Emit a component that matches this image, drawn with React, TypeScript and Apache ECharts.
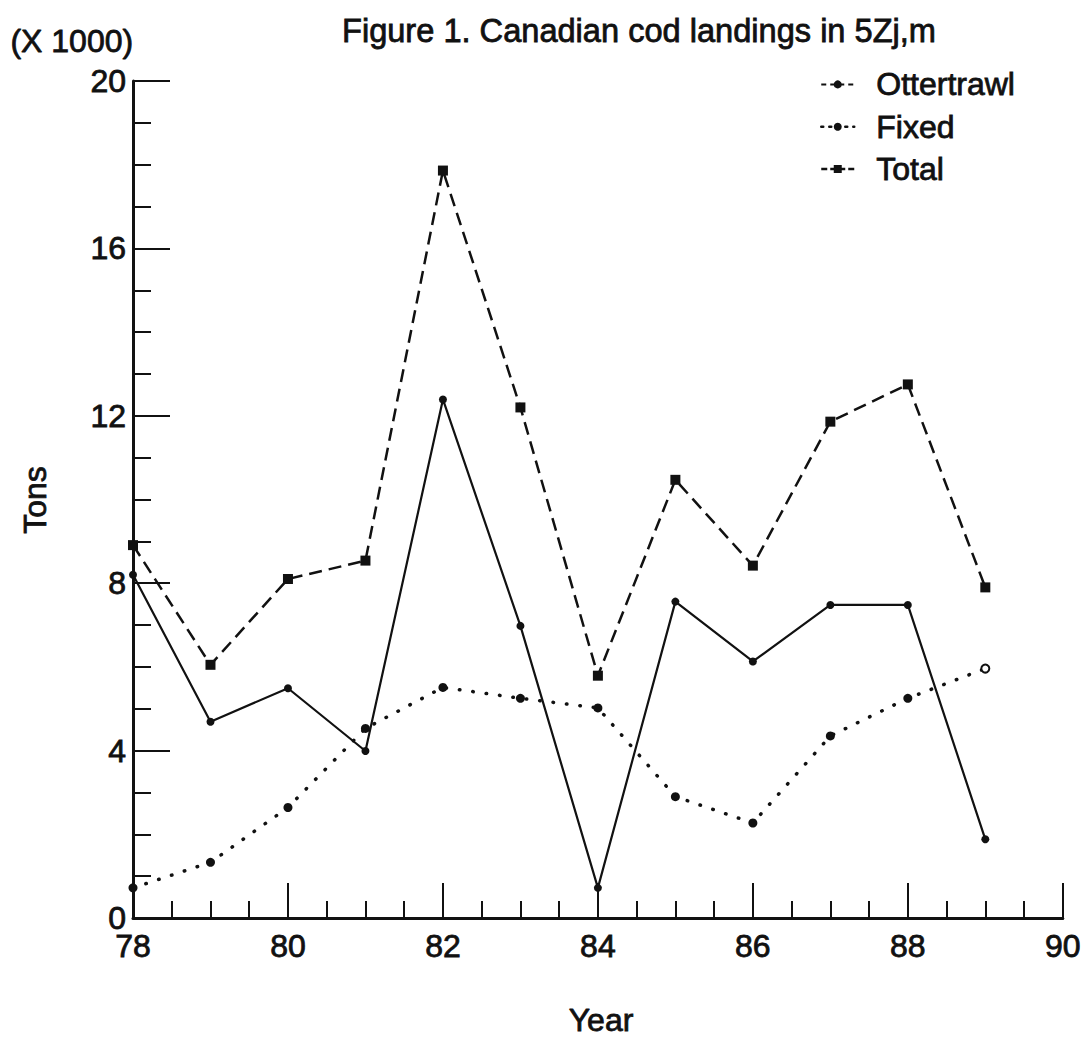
import React, { useEffect, useRef } from 'react';
import * as echarts from 'echarts';

const years = [78, 79, 80, 81, 82, 83, 84, 85, 86, 87, 88, 89];
const ottertrawl = [8.2, 4.69, 5.49, 3.99, 12.39, 6.98, 0.72, 7.56, 6.13, 7.48, 7.48, 1.88];
const fixed = [0.72, 1.33, 2.64, 4.53, 5.51, 5.25, 5.02, 2.9, 2.27, 4.35, 5.25, 5.96];
const total = [8.91, 6.05, 8.1, 8.54, 17.86, 12.2, 5.79, 10.47, 8.42, 11.86, 12.75, 7.9];
const seriesNames = ['Ottertrawl', 'Fixed', 'Total'];
const titleText = 'Figure 1. Canadian cod landings in 5Zj,m';
const unitText = '(X 1000)';
const yName = 'Tons';
const xName = 'Year';

const FONT = '"Liberation Sans", Arial, Helvetica, sans-serif';
const INK = '#111';
const FS = 32;
const TB = 0.8; // slight stroke to mimic the heavy scanned type

export default function App() {
  const ref = useRef<HTMLDivElement>(null);
  useEffect(() => {
    const chart = echarts.init(ref.current!, null, { renderer: 'svg' });
    const pairs = (vals: number[]) => years.map((y, i) => [y, vals[i]]);
    const fixedData: any[] = pairs(fixed).map((p, i) =>
      i === years.length - 1
        ? { value: p, symbolSize: 8, itemStyle: { color: '#fff', borderColor: INK, borderWidth: 2 } }
        : p
    );
    const txt = { fontFamily: FONT, fontSize: FS, fontWeight: 'normal', color: INK, textBorderColor: INK, textBorderWidth: TB };
    const gtxt = { fontFamily: FONT, fontSize: FS, fill: INK, stroke: INK, lineWidth: TB };
    chart.setOption({
      animation: false,
      backgroundColor: '#fff',
      textStyle: { fontFamily: FONT, color: INK },
      grid: { left: 133, right: 18, top: 81, bottom: 123, containLabel: false },
      title: {
        text: titleText,
        left: 337,
        top: 9,
        textStyle: { ...txt, fontSize: 32.6 },
      },
      legend: {
        orient: 'vertical',
        left: 815,
        top: 63,
        itemWidth: 33,
        itemHeight: 10,
        itemGap: 9.5,
        textStyle: { ...txt, padding: [0, 0, 0, 17] },
        data: [
          { name: seriesNames[0], lineStyle: { type: [5, 4], width: 2 } },
          { name: seriesNames[1], lineStyle: { type: [2, 6], width: 2.5 } },
          { name: seriesNames[2], lineStyle: { type: [6, 3], width: 2.5 } },
        ],
      },
      xAxis: {
        type: 'value',
        min: 78,
        max: 90,
        interval: 2,
        axisLine: { lineStyle: { color: INK, width: 3 } },
        axisTick: { show: true, inside: true, length: 35, lineStyle: { color: INK, width: 2 } },
        minorTick: { show: true, splitNumber: 4, length: 17, lineStyle: { color: INK, width: 2 } },
        splitLine: { show: false },
        axisLabel: { ...txt, margin: 16, lineHeight: 24 },
      },
      yAxis: {
        type: 'value',
        min: 0,
        max: 20,
        interval: 4,
        axisLine: { show: true, lineStyle: { color: INK, width: 3 } },
        axisTick: { show: true, inside: true, length: 37, lineStyle: { color: INK, width: 2 } },
        minorTick: { show: true, splitNumber: 4, length: 18, lineStyle: { color: INK, width: 2 } },
        splitLine: { show: false },
        axisLabel: { ...txt, margin: 7, lineHeight: 24, padding: [0, 0, 6, 0] },
      },
      graphic: [
        {
          type: 'text',
          left: 10,
          top: 25,
          style: { text: unitText, ...gtxt },
        },
        {
          type: 'text',
          x: 35,
          y: 500,
          rotation: Math.PI / 2,
          style: { text: yName, ...gtxt, align: 'center', verticalAlign: 'middle' },
        },
        {
          type: 'text',
          x: 601,
          y: 1020,
          style: { text: xName, ...gtxt, align: 'center', verticalAlign: 'middle' },
        },
      ],
      series: [
        {
          name: seriesNames[0],
          type: 'line',
          data: pairs(ottertrawl),
          symbol: 'circle',
          symbolSize: 8,
          showSymbol: true,
          itemStyle: { color: INK },
          lineStyle: { color: INK, width: 2.2, type: 'solid' },
          z: 3,
        },
        {
          name: seriesNames[1],
          type: 'line',
          data: fixedData,
          symbol: 'circle',
          symbolSize: 9,
          itemStyle: { color: INK },
          lineStyle: { color: INK, width: 3.5, type: [0.5, 13], cap: 'round' },
          z: 2,
        },
        {
          name: seriesNames[2],
          type: 'line',
          data: pairs(total),
          symbol: 'rect',
          symbolSize: 10,
          itemStyle: { color: INK },
          lineStyle: { color: INK, width: 2.5, type: [13, 7] },
          z: 4,
        },
      ],
    });
    return () => chart.dispose();
  }, []);
  return <div ref={ref} style={{ position: 'absolute', left: 0, top: 0, width: 1084, height: 1041 }} />;
}
